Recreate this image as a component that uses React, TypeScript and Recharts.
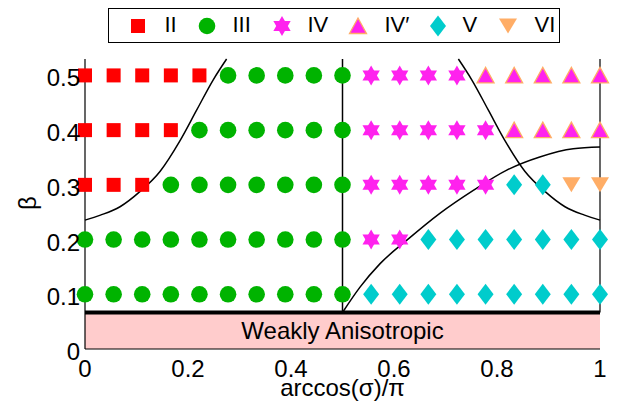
import { ComposedChart, Scatter, Line, XAxis, YAxis, ReferenceArea, ReferenceLine } from 'recharts'

// x positions of the computed points (arccos(sigma)/pi)
const xGrid = [0, 0.0556, 0.1111, 0.1667, 0.2222, 0.2778, 0.3333, 0.3889, 0.4444, 0.5,
  0.5556, 0.6111, 0.6667, 0.7222, 0.7778, 0.8333, 0.8889, 0.9444, 1]
const betaRows = [0.1, 0.2, 0.3, 0.4, 0.5]

// phase found at each grid point, one list per beta row
const row01 = ['III', 'III', 'III', 'III', 'III', 'III', 'III', 'III', 'III', 'III',
  'V', 'V', 'V', 'V', 'V', 'V', 'V', 'V', 'V']
const row02 = ['III', 'III', 'III', 'III', 'III', 'III', 'III', 'III', 'III', 'III',
  'IV', 'IV', 'V', 'V', 'V', 'V', 'V', 'V', 'V']
const row03 = ['II', 'II', 'II', 'III', 'III', 'III', 'III', 'III', 'III', 'III',
  'IV', 'IV', 'IV', 'IV', 'IV', 'V', 'V', 'VI', 'VI']
const row04 = ['II', 'II', 'II', 'II', 'III', 'III', 'III', 'III', 'III', 'III',
  'IV', 'IV', 'IV', 'IV', 'IV', "IV'", "IV'", "IV'", "IV'"]
const row05 = ['II', 'II', 'II', 'II', 'II', 'III', 'III', 'III', 'III', 'III',
  'IV', 'IV', 'IV', 'IV', "IV'", "IV'", "IV'", "IV'", "IV'"]
const phaseRows = [row01, row02, row03, row04, row05]

const phases = ['II', 'III', 'IV', "IV'", 'V', 'VI']
const phaseLabels = ['II', 'III', 'IV', 'IV′', 'V', 'VI']

// phase boundaries
const leftBoundary = [
  { x: 0, y: 0.2355 }, { x: 0.03, y: 0.2446 }, { x: 0.068, y: 0.26 }, { x: 0.107, y: 0.288 },
  { x: 0.146, y: 0.325 }, { x: 0.184, y: 0.38 }, { x: 0.217, y: 0.437 }, { x: 0.249, y: 0.492 },
  { x: 0.275, y: 0.53 },
]
const rightBoundary = [
  { x: 0.725, y: 0.53 }, { x: 0.751, y: 0.492 }, { x: 0.783, y: 0.437 }, { x: 0.816, y: 0.38 },
  { x: 0.854, y: 0.325 }, { x: 0.893, y: 0.288 }, { x: 0.932, y: 0.26 }, { x: 0.97, y: 0.2446 },
  { x: 1, y: 0.2355 },
]
const lowerBoundary = [
  { x: 0.5, y: 0.0667 }, { x: 0.534, y: 0.113 }, { x: 0.573, y: 0.156 }, { x: 0.625, y: 0.199 },
  { x: 0.689, y: 0.248 }, { x: 0.754, y: 0.29 }, { x: 0.819, y: 0.327 }, { x: 0.883, y: 0.351 },
  { x: 0.948, y: 0.366 }, { x: 1, y: 0.369 },
]
const midBoundary = [{ x: 0.5, y: 0.0667 }, { x: 0.5, y: 0.53 }]

const weakLimit = 1 / 15
const yTicks = [0, 1 / 15, 0.1, 0.2, 0.3, 0.4, 0.5]
const xTicks = [0, 0.2, 0.4, 0.6, 0.8, 1]

// legend layout (px from the legend box's left edge)
const legendMarkerLeft = [30, 99, 174, 250, 330, 400]
const legendTextLeft = [57, 125, 200, 277, 355, 427]

const FONT = '"Liberation Sans", Arial, sans-serif'
const RED = '#ff0000'
const GREEN = '#00b300'
const MAGENTA = '#ff22ee'
const CYAN = '#00cccc'
const ORANGE = '#ffad66'

const seriesData = phases.map((ph) => {
  const pts: { x: number; y: number }[] = []
  phaseRows.forEach((row, r) => {
    row.forEach((p, k) => {
      if (p === ph) pts.push({ x: xGrid[k], y: betaRows[r] })
    })
  })
  return pts
})

function hexagram(cx: number, cy: number, R: number) {
  const tri = (start: number) =>
    [0, 120, 240]
      .map((a) => {
        const t = ((start + a) * Math.PI) / 180
        return `${cx + R * Math.cos(t)},${cy + R * Math.sin(t)}`
      })
      .join(' ')
  return (
    <g>
      <polygon points={tri(-90)} fill={MAGENTA} />
      <polygon points={tri(90)} fill={MAGENTA} />
    </g>
  )
}

function Marker({ phase, cx, cy }: { phase: string; cx: number; cy: number }) {
  switch (phase) {
    case 'II':
      return <rect x={cx - 7} y={cy - 7} width={14} height={14} fill={RED} />
    case 'III':
      return <circle cx={cx} cy={cy} r={8.3} fill={GREEN} />
    case 'IV':
      return hexagram(cx, cy, 10)
    case "IV'":
      return (
        <polygon
          points={`${cx},${cy - 8} ${cx + 8.5},${cy + 7.5} ${cx - 8.5},${cy + 7.5}`}
          fill={MAGENTA}
          stroke={ORANGE}
          strokeWidth={1.3}
        />
      )
    case 'V':
      return <polygon points={`${cx},${cy - 10.5} ${cx + 8},${cy} ${cx},${cy + 10.5} ${cx - 8},${cy}`} fill={CYAN} />
    default:
      return <polygon points={`${cx - 9},${cy - 7.5} ${cx + 9},${cy - 7.5} ${cx},${cy + 7.5}`} fill={ORANGE} />
  }
}

function YTick(props: any) {
  const { x, y, payload } = props
  const frac = Math.abs(payload.value - 1 / 15) < 1e-6
  const label = frac ? '1/15' : payload.value === 0 ? '0' : payload.value.toFixed(1)
  return (
    <text x={frac ? x - 8 : x} y={frac ? y + 4 : y} dy="0.46em" textAnchor="end" fontSize={24} fontFamily={FONT} fill="#000">
      {label}
    </text>
  )
}

function XTick(props: any) {
  const { x, y, payload } = props
  const v = payload.value
  const label = v === 0 || v === 1 ? String(v) : v.toFixed(1)
  return (
    <text x={x} y={y} dy="0.71em" textAnchor="middle" fontSize={24} fontFamily={FONT} fill="#000">
      {label}
    </text>
  )
}

function ChartLegend() {
  return (
    <div
      style={{
        position: 'absolute',
        left: 108,
        top: 8,
        width: 452,
        height: 35,
        boxSizing: 'border-box',
        border: '1.5px solid #000',
        background: '#fff',
        fontFamily: FONT,
        fontSize: 22,
      }}
    >
      {phases.map((ph, i) => (
        <div key={ph}>
          <svg
            width={24}
            height={24}
            style={{ position: 'absolute', left: legendMarkerLeft[i] - 12 - 1.5, top: 4.5, overflow: 'visible' }}
          >
            <Marker phase={ph} cx={12} cy={12} />
          </svg>
          <span style={{ position: 'absolute', left: legendTextLeft[i] - 1.5, top: 4, lineHeight: '24px' }}>
            {phaseLabels[i]}
          </span>
        </div>
      ))}
    </div>
  )
}

function YLabel() {
  return (
    <svg width={60} height={406} style={{ position: 'absolute', left: 0, top: 0, pointerEvents: 'none' }}>
      <text
        x={27}
        y={203}
        transform="rotate(-90 27 203)"
        textAnchor="middle"
        dominantBaseline="central"
        fontSize={24}
        fontFamily={FONT}
        fill="#000"
      >
        β
      </text>
    </svg>
  )
}

export default function App() {
  return (
    <div style={{ position: 'absolute', left: 0, top: 0, width: 627, height: 406, background: '#fff' }}>
      <ComposedChart width={627} height={406} margin={{ top: 59, right: 27, bottom: 7, left: 25 }}>
        <XAxis
          dataKey="x"
          type="number"
          domain={[0, 1]}
          ticks={xTicks}
          tick={<XTick />}
          tickLine={false}
          tickSize={0}
          tickMargin={11}
          axisLine={{ stroke: '#000', strokeWidth: 1.2 }}
          height={50}
          label={{
            content: (p: any) => (
              <text
                x={p.viewBox.x + p.viewBox.width / 2}
                y={396}
                textAnchor="middle"
                fontSize={24}
                fontFamily={FONT}
                fill="#000"
              >
                arccos(σ)/π
              </text>
            ),
          }}
        />
        <XAxis
          xAxisId="top"
          orientation="top"
          type="number"
          domain={[0, 1]}
          ticks={xTicks}
          tick={false}
          mirror
          tickSize={5}
          tickLine={{ stroke: '#000' }}
          axisLine={{ stroke: '#000', strokeWidth: 1.2 }}
          height={0}
        />
        <YAxis
          dataKey="y"
          type="number"
          domain={[0, 0.53]}
          ticks={yTicks}
          tick={<YTick />}
          tickLine={false}
          tickSize={0}
          tickMargin={5}
          axisLine={{ stroke: '#000', strokeWidth: 1.2 }}
          width={60}
        />
        <ReferenceArea
          x1={0}
          x2={1}
          y1={0}
          y2={weakLimit}
          fill="#ffcccc"
          fillOpacity={1}
          stroke="none"
          ifOverflow="visible"
          label={{ value: 'Weakly Anisotropic', position: 'center', fontSize: 24, fontFamily: FONT, fill: '#000' }}
        />
        <ReferenceLine y={weakLimit} stroke="#000" strokeWidth={4} />
        <ReferenceLine
          segment={[{ x: 1, y: weakLimit }, { x: 1, y: 0.53 }]}
          stroke="#000"
          strokeWidth={1.2}
          ifOverflow="visible"
        />
        {phases.map((ph, i) => (
          <Scatter
            key={ph}
            name={phaseLabels[i]}
            data={seriesData[i]}
            dataKey="y"
            isAnimationActive={false}
            shape={(p: any) => <Marker phase={ph} cx={p.cx} cy={p.cy} />}
          />
        ))}
        {[leftBoundary, rightBoundary, lowerBoundary, midBoundary].map((d, i) => (
          <Line
            key={i}
            data={d}
            dataKey="y"
            type="monotone"
            stroke="#000"
            strokeWidth={1.5}
            dot={false}
            activeDot={false}
            legendType="none"
            isAnimationActive={false}
          />
        ))}
      </ComposedChart>
      <YLabel />
      <ChartLegend />
    </div>
  )
}
